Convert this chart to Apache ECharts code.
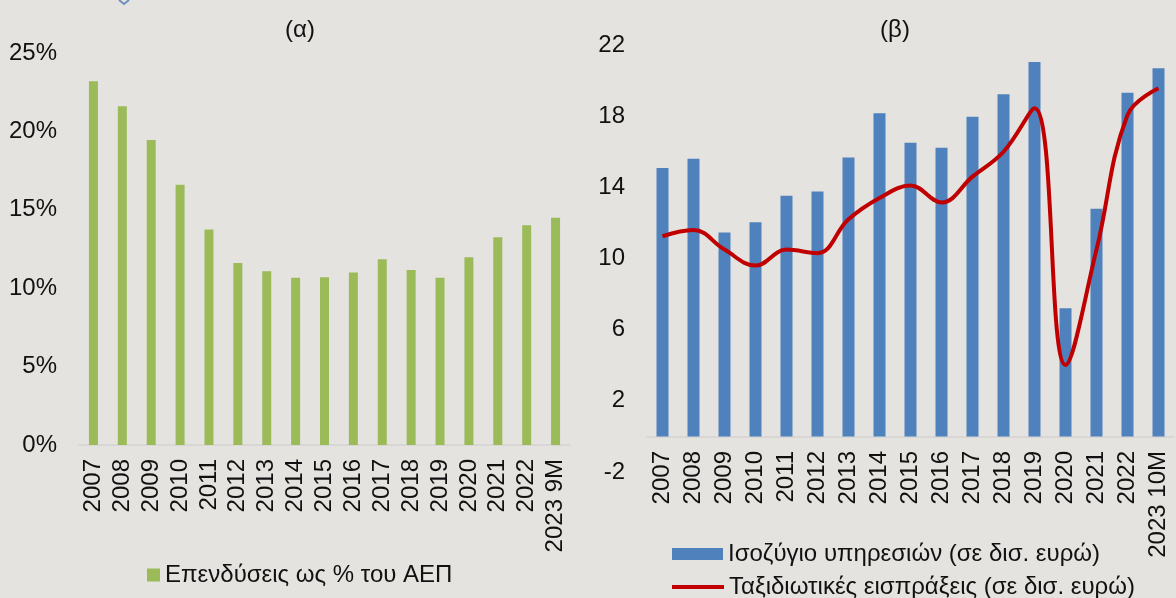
<!DOCTYPE html>
<html>
<head>
<meta charset="utf-8">
<script src="https://cdn.jsdelivr.net/npm/echarts@6/dist/echarts.min.js"></script>
<style>
  html, body { margin: 0; padding: 0; background: #E4E3DF; }
  #chart { width: 1176px; height: 598px; }
</style>
</head>
<body>
<div id="chart"></div>
<script>
// panel (α): investment as % of GDP
const alphaYears = ["2007", "2008", "2009", "2010", "2011", "2012", "2013", "2014", "2015",
  "2016", "2017", "2018", "2019", "2020", "2021", "2022", "2023 9M"];
const investmentPct = [23.2, 21.6, 19.45, 16.6, 13.75, 11.6, 11.08, 10.67, 10.7,
  11.0, 11.84, 11.16, 10.67, 11.98, 13.25, 14.01, 14.5];

// panel (β): services balance and travel receipts, bn euro
const betaYears = ["2007", "2008", "2009", "2010", "2011", "2012", "2013", "2014", "2015",
  "2016", "2017", "2018", "2019", "2020", "2021", "2022", "2023 10M"];
const servicesBalance = [15.08, 15.61, 11.46, 12.04, 13.53, 13.76, 15.67, 18.16, 16.51,
  16.23, 17.97, 19.23, 21.04, 7.21, 12.79, 19.32, 20.69];
const travelReceipts = [11.25, 11.6, 10.5, 9.6, 10.5, 10.3, 12.2, 13.4, 14.1,
  13.15, 14.6, 16.0, 18.45, 4.02, 10.5, 18.07, 19.57];
const betaTicks = [-2, 2, 6, 10, 14, 18, 22];

const FONT = "'Liberation Sans', Arial, sans-serif";
const GREEN = "#9BBB59";
const BLUE = "#4F81BD";
const RED = "#C00000";
const FS = 24;

const chart = echarts.init(document.getElementById("chart"), null, {
  width: 1176,
  height: 598,
});

// labels sit at the grid bottom, so panel β needs them pulled up to the zero line
const catAxis = (grid, data, margin) => ({
  type: "category",
  gridIndex: grid,
  data: data,
  axisLine: { lineStyle: { color: "#D4D4D4", width: 1.5 } },
  axisTick: { show: false },
  axisLabel: {
    rotate: 90,
    margin: margin,
    interval: 0,
    color: "#111",
    fontSize: FS,
    fontFamily: FONT,
  },
});

const option = {
  backgroundColor: "#E4E3DF",
  animation: false,
  textStyle: { fontFamily: FONT },
  title: [
    {
      text: "(α)",
      left: 295,
      top: 13,
      textAlign: "center",
      textStyle: { fontSize: FS, fontWeight: "normal", color: "#111", fontFamily: FONT },
    },
    {
      text: "(β)",
      left: 890,
      top: 13,
      textAlign: "center",
      textStyle: { fontSize: FS, fontWeight: "normal", color: "#111", fontFamily: FONT },
    },
  ],
  grid: [
    { left: 79, top: 53, width: 491, height: 392 },
    { left: 647, top: 45, width: 527, height: 427 },
  ],
  legend: [
    {
      data: ["Επενδύσεις ως % του ΑΕΠ"],
      left: 142,
      top: 558,
      icon: "rect",
      itemWidth: 13,
      itemHeight: 13,
      textStyle: { fontSize: FS, color: "#111", fontFamily: FONT },
    },
    {
      data: ["Ισοζύγιο υπηρεσιών (σε δισ. ευρώ)"],
      left: 667,
      top: 537,
      icon: "rect",
      itemWidth: 51,
      itemHeight: 12,
      textStyle: { fontSize: FS, color: "#111", fontFamily: FONT },
    },
    {
      data: ["Ταξιδιωτικές εισπράξεις (σε δισ. ευρώ)"],
      left: 667,
      top: 570,
      icon: "rect",
      itemWidth: 52,
      itemHeight: 4,
      textStyle: { fontSize: FS, color: "#111", fontFamily: FONT },
    },
  ],
  xAxis: [catAxis(0, alphaYears, 14), catAxis(1, betaYears, -21)],
  yAxis: [
    {
      type: "value",
      gridIndex: 0,
      min: 0,
      max: 25,
      interval: 5,
      axisLine: { show: false },
      axisTick: { show: false },
      splitLine: { show: false },
      axisLabel: {
        formatter: "{value}%",
        margin: 22,
        color: "#111",
        fontSize: FS,
        fontFamily: FONT,
      },
    },
    {
      type: "value",
      gridIndex: 1,
      min: -2,
      max: 22,
      interval: 4,
      axisLine: { show: false },
      axisTick: { show: false },
      splitLine: { show: false },
      axisLabel: {
        customValues: betaTicks,
        margin: 22,
        color: "#111",
        fontSize: FS,
        fontFamily: FONT,
      },
    },
  ],
  series: [
    {
      name: "Επενδύσεις ως % του ΑΕΠ",
      type: "bar",
      xAxisIndex: 0,
      yAxisIndex: 0,
      data: investmentPct,
      barWidth: 9,
      itemStyle: { color: GREEN },
    },
    {
      name: "Ισοζύγιο υπηρεσιών (σε δισ. ευρώ)",
      type: "bar",
      xAxisIndex: 1,
      yAxisIndex: 1,
      data: servicesBalance,
      barWidth: 12,
      itemStyle: { color: BLUE },
    },
    {
      name: "Ταξιδιωτικές εισπράξεις (σε δισ. ευρώ)",
      type: "line",
      xAxisIndex: 1,
      yAxisIndex: 1,
      data: travelReceipts,
      smooth: 0.4,
      symbol: "none",
      z: 5,
      lineStyle: { color: RED, width: 4 },
      itemStyle: { color: RED },
    },
  ],
  graphic: [
    {
      // bit of a cropped logo at the top edge
      type: "polyline",
      shape: { points: [[119, 0], [124, 4], [129, 0]] },
      style: { stroke: "#6F8FBF", lineWidth: 2, fill: null },
    },
  ],
};

chart.setOption(option);
</script>
</body>
</html>
